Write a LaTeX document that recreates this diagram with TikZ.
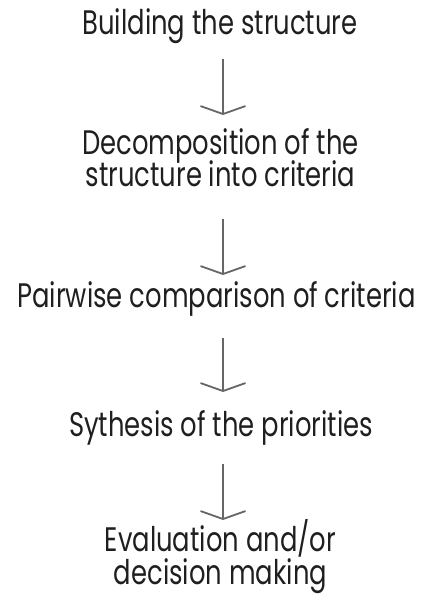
\documentclass[tikz,border=0pt]{standalone}
\usepackage{fontspec}
\setmainfont{Poppins}[FakeStretch=0.76]
\usetikzlibrary{arrows.meta}
\begin{document}
\begin{tikzpicture}[x=1pt,y=1pt,
  lbl/.style={anchor=base, inner sep=0pt, text=black!88, font=\fontsize{34}{32}\selectfont, align=center},
  flow/.style={draw=black!60, line width=1.8pt, -{Straight Barb[length=8pt,width=45pt,line width=1.8pt]}}]
\useasboundingbox (0,0) rectangle (428,596);
\node[lbl] (a) at (220,596-35) {Building the structure};
\node[lbl] (b) at (220.5,596-155) {Decomposition of the};
\node[lbl] (b2) at (220.5,596-187) {structure into criteria};
\node[lbl] (c) at (216.5,596-308) {Pairwise comparison of criteria};
\node[lbl] (d) at (221,596-437) {Sythesis of the priorities};
\node[lbl] (e) at (220.5,596-552) {Evaluation and/or};
\node[lbl] (e2) at (220.5,596-584) {decision making};
\coordinate (a1) at (223,596-59);  \coordinate (a2) at (223,596-115);
\coordinate (b1) at (223,596-219); \coordinate (bb) at (223,596-275);
\coordinate (c1) at (223,596-338); \coordinate (c2) at (223,596-392);
\coordinate (d1) at (223,596-464); \coordinate (d2) at (223,596-520);
\draw[flow] (a1) -- (a2);
\draw[flow] (b1) -- (bb);
\draw[flow] (c1) -- (c2);
\draw[flow] (d1) -- (d2);
\end{tikzpicture}
\end{document}
